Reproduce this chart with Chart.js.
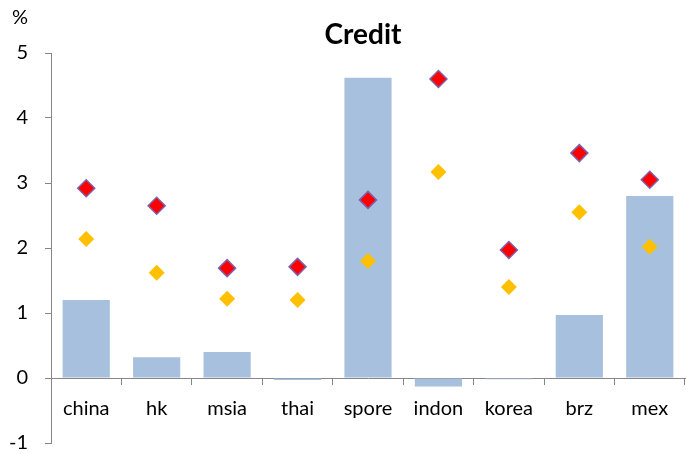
<!DOCTYPE html>
<html>
<head>
<meta charset="utf-8">
<script src="https://cdn.jsdelivr.net/npm/chart.js@4"></script>
<style>
html,body{margin:0;padding:0;background:#fff;}
</style>
</head>
<body>
<canvas id="c" width="686" height="454"></canvas>
<script>
const categories = ["china","hk","msia","thai","spore","indon","korea","brz","mex"];
const barValues = [1.20, 0.32, 0.40, -0.03, 4.62, -0.13, -0.02, 0.97, 2.80];
const redValues = [2.92, 2.65, 1.69, 1.71, 2.74, 4.60, 1.97, 3.46, 3.05];
const orangeValues = [2.14, 1.62, 1.22, 1.20, 1.80, 3.17, 1.40, 2.55, 2.02];
const yTicks = [-1, 0, 1, 2, 3, 4, 5];
const titleText = "Credit";
const unitText = "%";

const FONT = "Lato, 'Open Sans', sans-serif";
const axisColor = "#868686";

const extraText = {
  id: 'extraText',
  afterDraw(chart) {
    const ctx = chart.ctx;
    const a = chart.chartArea;
    ctx.save();
    ctx.fillStyle = '#000';
    ctx.textBaseline = 'middle';
    ctx.textAlign = 'center';
    ctx.font = "bold 28px " + FONT;
    ctx.fillText(titleText, (a.left + a.right) / 2 - 5, 35);
    ctx.font = "20px " + FONT;
    ctx.fillText(unitText, 20, 18);
    ctx.restore();
  }
};

new Chart(document.getElementById('c'), {
  type: 'bar',
  data: {
    labels: categories,
    datasets: [
      {
        type: 'line', data: redValues, showLine: false, order: 1,
        pointStyle: 'rectRot', pointRadius: 8.5, pointHoverRadius: 8.5,
        backgroundColor: '#FF0000', borderColor: '#7F5FA8', pointBorderWidth: 1.5
      },
      {
        type: 'line', data: orangeValues, showLine: false, order: 2,
        pointStyle: 'rectRot', pointRadius: 8, pointHoverRadius: 8,
        backgroundColor: '#FFC000', borderColor: '#FFC000', pointBorderWidth: 0
      },
      {
        type: 'bar', data: barValues, order: 3,
        backgroundColor: '#A7C0DE', borderWidth: 0,
        categoryPercentage: 1, barPercentage: 0.67
      }
    ]
  },
  options: {
    responsive: false,
    animation: false,
    layout: { autoPadding: false, padding: { top: 53, bottom: 11, right: 1, left: 0 } },
    plugins: { legend: { display: false }, tooltip: { enabled: false }, title: { display: false } },
    scales: {
      x: {
        position: { y: 0 },
        afterFit(scale) { scale.paddingLeft = 0; scale.paddingRight = 0; scale.paddingTop = 0; scale.paddingBottom = 0; },
        grid: { display: true, drawOnChartArea: false, drawTicks: true, tickLength: 6, color: axisColor, offset: true },
        border: { display: true, color: axisColor, width: 1 },
        ticks: { color: '#000', font: { family: FONT, size: 20 }, padding: 13, maxRotation: 0, autoSkip: false }
      },
      y: {
        min: -1, max: 5,
        afterFit(scale) { scale.width = 51; scale.paddingTop = 0; scale.paddingBottom = 0; scale.paddingLeft = 0; scale.paddingRight = 0; },
        afterBuildTicks(scale) { scale.ticks = yTicks.map(v => ({ value: v })); },
        grid: { display: true, drawOnChartArea: false, drawTicks: true, tickLength: 6, color: axisColor },
        border: { display: true, color: axisColor, width: 1 },
        ticks: { color: '#000', font: { family: FONT, size: 20 }, padding: 17 }
      }
    }
  },
  plugins: [extraText]
});
</script>
</body>
</html>
